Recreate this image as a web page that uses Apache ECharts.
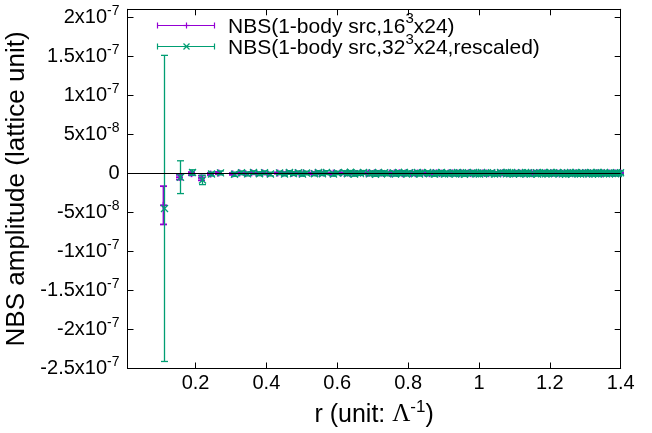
<!DOCTYPE html>
<html><head><meta charset="utf-8">
<script src="https://cdn.jsdelivr.net/npm/echarts@6/dist/echarts.min.js"></script>
<style>html,body{margin:0;padding:0;background:#fff}#c{width:652px;height:433px}</style>
</head><body><div id="c"></div>
<script>
const seriesNames = ['NBS(1-body src,16^{3}x24)', 'NBS(1-body src,32^{3}x24,rescaled)'];
const xTickValues = [0.2, 0.4, 0.6, 0.8, 1.0, 1.2, 1.4];
const xTickLabels = ['0.2', '0.4', '0.6', '0.8', '1', '1.2', '1.4'];
const yTickValues = [-2.5e-7, -2e-7, -1.5e-7, -1e-7, -5e-8, 0, 5e-8, 1e-7, 1.5e-7, 2e-7];
const yTickLabels = ['-2.5x10^{-7}', '-2x10^{-7}', '-1.5x10^{-7}', '-1x10^{-7}', '-5x10^{-8}', '0', '5x10^{-8}', '1x10^{-7}', '1.5x10^{-7}', '2x10^{-7}'];

// distances r (unit: 1/Lambda), 16^3x24 lattice
const r16Values = [
  0.108, 0.152, 0.186, 0.215, 0.240, 0.263,
  0.304, 0.323, 0.340, 0.357, 0.372, 0.388, 0.402,
  0.430, 0.443, 0.456, 0.469, 0.481, 0.493, 0.504,
  0.527, 0.538, 0.548, 0.559,
  0.579, 0.589,
  0.608, 0.618, 0.627, 0.636, 0.645, 0.654, 0.663,
  0.680, 0.688, 0.697, 0.705, 0.713, 0.721, 0.729,
  0.745, 0.753, 0.760, 0.768, 0.775, 0.783, 0.790,
  0.805, 0.812, 0.819, 0.826,
  0.840, 0.847,
  0.860, 0.867, 0.873, 0.880, 0.887, 0.893, 0.899,
  0.912, 0.919, 0.925, 0.931, 0.937, 0.943, 0.949,
  0.962, 0.968, 0.974, 0.979, 0.985, 0.991, 0.997,
  1.008, 1.014, 1.020, 1.026,
  1.037, 1.042,
  1.053, 1.059, 1.064, 1.070, 1.075, 1.080, 1.086,
  1.096, 1.102, 1.107, 1.112, 1.117, 1.122, 1.128,
  1.143, 1.148, 1.153, 1.158, 1.163, 1.168,
  1.178, 1.183, 1.187, 1.192,
  1.202, 1.207,
  1.216, 1.221, 1.226, 1.230, 1.235, 1.240, 1.244,
  1.254, 1.258, 1.263, 1.267, 1.272, 1.277, 1.281,
  1.290, 1.295, 1.299, 1.303, 1.308, 1.312, 1.317,
  1.325, 1.330, 1.334, 1.338,
  1.347, 1.351,
  1.360, 1.364, 1.368, 1.373, 1.377,
  1.381, 1.385, 1.393, 1.398
];

// distances r (unit: 1/Lambda), 32^3x24 lattice
const r32Values = [
  0.110, 0.155, 0.190, 0.219, 0.245, 0.268,
  0.309, 0.328, 0.346, 0.363, 0.379, 0.394, 0.409,
  0.437, 0.450, 0.463, 0.476, 0.488, 0.501, 0.512,
  0.535, 0.546, 0.557, 0.567,
  0.588, 0.598,
  0.618, 0.627, 0.637, 0.646, 0.655, 0.664, 0.673,
  0.690, 0.699, 0.707, 0.716, 0.724, 0.732, 0.740,
  0.756, 0.764, 0.772, 0.779, 0.787, 0.795, 0.802,
  0.817, 0.824, 0.831, 0.838,
  0.852, 0.859,
  0.873, 0.880, 0.887, 0.893, 0.900, 0.906, 0.913,
  0.926, 0.932, 0.939, 0.945, 0.951, 0.957, 0.964,
  0.976, 0.982, 0.988, 0.994, 1.000, 1.006, 1.012,
  1.024, 1.029, 1.035, 1.041,
  1.052, 1.058,
  1.069, 1.075, 1.080, 1.086, 1.091, 1.096, 1.102,
  1.113, 1.118, 1.123, 1.129, 1.134, 1.139, 1.144,
  1.160, 1.165, 1.170, 1.175, 1.180, 1.185,
  1.195, 1.200, 1.205, 1.210,
  1.220, 1.225,
  1.234, 1.239, 1.244, 1.249, 1.253, 1.258, 1.263,
  1.272, 1.277, 1.281, 1.286, 1.291, 1.295, 1.300,
  1.309, 1.314, 1.318, 1.323, 1.327, 1.332, 1.336,
  1.345, 1.349, 1.354, 1.358,
  1.367, 1.371,
  1.380, 1.384, 1.388, 1.393, 1.397
];

// NBS(1-body src, 16^3x24)
const nbs16Values = [
  -41e-9, -5e-9, -0.5e-9, -6e-9, -1e-9, 0.3e-9,
  -0.8e-9, 0.4e-9, -0.5e-9, 0.6e-9, -0.3e-9, 0.5e-9, -0.6e-9,
  0.3e-9, -0.4e-9, 0.5e-9, -0.2e-9, 0.4e-9, -0.5e-9, 0.2e-9,
  -0.3e-9, 0.6e-9, -0.2e-9, 0.4e-9,
  -0.5e-9, 0.2e-9,
  0.4e-9, -0.3e-9, 0.6e-9, -0.5e-9, 0.2e-9, -0.2e-9, 0.5e-9,
  -0.4e-9, 0.3e-9, -0.6e-9, 0.5e-9, -0.2e-9, 0.4e-9, -0.3e-9,
  0.2e-9, -0.5e-9, 0.4e-9, -0.3e-9, 0.6e-9, -0.4e-9, 0.3e-9,
  -0.2e-9, 0.5e-9, -0.4e-9, 0.3e-9,
  0.4e-9, -0.3e-9,
  -0.5e-9, 0.3e-9, -0.2e-9, 0.5e-9, -0.4e-9, 0.2e-9, -0.3e-9,
  0.3e-9, -0.4e-9, 0.5e-9, -0.2e-9, 0.3e-9, -0.5e-9, 0.4e-9,
  -0.3e-9, 0.5e-9, -0.4e-9, 0.2e-9, -0.5e-9, 0.4e-9, -0.2e-9,
  0.4e-9, -0.2e-9, 0.3e-9, -0.5e-9,
  -0.3e-9, 0.5e-9,
  0.2e-9, -0.4e-9, 0.6e-9, -0.3e-9, 0.4e-9, -0.5e-9, 0.3e-9,
  -0.4e-9, 0.3e-9, -0.2e-9, 0.5e-9, -0.3e-9, 0.4e-9, -0.5e-9,
  0.3e-9, -0.5e-9, 0.4e-9, -0.2e-9, 0.5e-9, -0.3e-9,
  -0.2e-9, 0.4e-9, -0.4e-9, 0.3e-9,
  0.5e-9, -0.3e-9,
  -0.4e-9, 0.2e-9, -0.5e-9, 0.3e-9, -0.2e-9, 0.5e-9, -0.3e-9,
  0.4e-9, -0.3e-9, 0.2e-9, -0.5e-9, 0.4e-9, -0.2e-9, 0.3e-9,
  -0.3e-9, 0.5e-9, -0.4e-9, 0.2e-9, -0.3e-9, 0.4e-9, -0.5e-9,
  0.3e-9, -0.2e-9, 0.5e-9, -0.4e-9,
  -0.3e-9, 0.4e-9,
  0.2e-9, -0.4e-9, 0.3e-9, -0.2e-9, 0.4e-9,
  -0.3e-9, 0.4e-9, -0.2e-9, 0.3e-9
];
const nbs16Errors = [
  24.5e-9, 3e-9, 2e-9, 3e-9, 1.5e-9, 1.5e-9,
  1.2e-9, 1.0e-9, 1.1e-9, 0.9e-9, 1.0e-9, 0.9e-9, 0.9e-9,
  0.9e-9, 0.8e-9, 0.9e-9, 0.8e-9, 0.8e-9, 0.9e-9, 0.8e-9,
  0.8e-9, 0.8e-9, 0.7e-9, 0.8e-9,
  0.8e-9, 0.7e-9,
  0.7e-9, 0.8e-9, 0.7e-9, 0.8e-9, 0.7e-9, 0.7e-9, 0.8e-9,
  0.7e-9, 0.8e-9, 0.9e-9, 0.7e-9, 0.8e-9, 0.7e-9, 0.8e-9,
  0.7e-9, 0.8e-9, 0.7e-9, 0.8e-9, 0.7e-9, 0.8e-9, 0.7e-9,
  0.8e-9, 0.7e-9, 0.8e-9, 0.7e-9,
  0.7e-9, 0.8e-9,
  0.9e-9, 0.7e-9, 0.8e-9, 0.7e-9, 0.8e-9, 0.7e-9, 0.8e-9,
  0.7e-9, 0.8e-9, 0.7e-9, 0.8e-9, 0.7e-9, 0.9e-9, 0.7e-9,
  0.8e-9, 0.7e-9, 0.8e-9, 0.7e-9, 0.8e-9, 0.7e-9, 0.8e-9,
  0.7e-9, 0.8e-9, 0.7e-9, 0.8e-9,
  0.8e-9, 0.7e-9,
  0.7e-9, 0.8e-9, 0.7e-9, 0.8e-9, 0.7e-9, 0.8e-9, 0.7e-9,
  0.8e-9, 0.7e-9, 0.8e-9, 0.7e-9, 0.8e-9, 0.7e-9, 0.8e-9,
  0.7e-9, 0.8e-9, 0.7e-9, 0.8e-9, 0.7e-9, 0.8e-9,
  0.8e-9, 0.7e-9, 0.8e-9, 0.7e-9,
  0.7e-9, 0.8e-9,
  0.8e-9, 0.7e-9, 0.9e-9, 0.7e-9, 0.8e-9, 0.7e-9, 0.8e-9,
  0.7e-9, 0.8e-9, 0.7e-9, 0.8e-9, 0.7e-9, 0.8e-9, 0.7e-9,
  0.8e-9, 0.7e-9, 0.8e-9, 0.7e-9, 0.8e-9, 0.7e-9, 0.8e-9,
  0.7e-9, 0.8e-9, 0.7e-9, 0.8e-9,
  0.8e-9, 0.7e-9,
  0.7e-9, 0.8e-9, 0.7e-9, 0.8e-9, 0.7e-9,
  0.8e-9, 0.7e-9, 0.8e-9, 0.7e-9
];

// NBS(1-body src, 32^3x24, rescaled)
const nbs32Values = [
  -45e-9, -5e-9, 1e-9, -8.5e-9, -1e-9, 0.5e-9,
  -1.2e-9, 0.6e-9, -0.8e-9, 1.0e-9, -0.6e-9, 0.8e-9, -1.0e-9,
  0.5e-9, -0.9e-9, 1.1e-9, -0.4e-9, 0.7e-9, -1.1e-9, 0.3e-9,
  -0.7e-9, 1.2e-9, -0.5e-9, 0.9e-9,
  -1.0e-9, 0.4e-9,
  0.9e-9, -0.6e-9, 1.3e-9, -1.1e-9, 0.5e-9, -0.4e-9, 1.0e-9,
  -0.8e-9, 0.7e-9, -1.2e-9, 1.0e-9, -0.5e-9, 0.8e-9, -0.7e-9,
  0.4e-9, -1.0e-9, 0.9e-9, -0.6e-9, 1.2e-9, -0.9e-9, 0.6e-9,
  -0.5e-9, 1.1e-9, -0.9e-9, 0.7e-9,
  0.9e-9, -0.6e-9,
  -1.1e-9, 0.6e-9, -0.4e-9, 1.1e-9, -0.9e-9, 0.5e-9, -0.7e-9,
  0.7e-9, -0.9e-9, 1.0e-9, -0.5e-9, 0.6e-9, -1.2e-9, 0.8e-9,
  -0.6e-9, 1.0e-9, -0.8e-9, 0.4e-9, -1.1e-9, 0.9e-9, -0.5e-9,
  0.8e-9, -0.5e-9, 0.7e-9, -1.0e-9,
  -0.7e-9, 1.1e-9,
  0.5e-9, -0.8e-9, 1.2e-9, -0.6e-9, 0.9e-9, -1.0e-9, 0.6e-9,
  -0.9e-9, 0.7e-9, -0.4e-9, 1.0e-9, -0.6e-9, 0.8e-9, -1.1e-9,
  0.6e-9, -1.0e-9, 0.8e-9, -0.5e-9, 1.1e-9, -0.7e-9,
  -0.5e-9, 0.9e-9, -0.8e-9, 0.6e-9,
  1.0e-9, -0.6e-9,
  -0.8e-9, 0.5e-9, -1.2e-9, 0.7e-9, -0.4e-9, 1.1e-9, -0.7e-9,
  0.9e-9, -0.6e-9, 0.4e-9, -1.0e-9, 0.8e-9, -0.5e-9, 0.7e-9,
  -0.7e-9, 1.1e-9, -0.9e-9, 0.5e-9, -0.6e-9, 0.9e-9, -1.0e-9,
  0.6e-9, -0.4e-9, 1.0e-9, -0.8e-9,
  -0.6e-9, 0.8e-9,
  0.5e-9, -0.8e-9, 0.6e-9, -0.4e-9, 0.7e-9
];
const nbs32Errors = [
  196e-9, 21e-9, 3.5e-9, 6e-9, 2.5e-9, 2.5e-9,
  2.7e-9, 2.4e-9, 2.6e-9, 2.2e-9, 2.5e-9, 2.3e-9, 2.4e-9,
  2.2e-9, 2.5e-9, 2.3e-9, 2.4e-9, 2.2e-9, 2.6e-9, 2.3e-9,
  2.4e-9, 2.2e-9, 2.3e-9, 2.5e-9,
  2.6e-9, 2.2e-9,
  2.3e-9, 2.4e-9, 2.2e-9, 2.6e-9, 2.3e-9, 2.2e-9, 2.5e-9,
  2.4e-9, 2.3e-9, 2.7e-9, 2.2e-9, 2.4e-9, 2.3e-9, 2.5e-9,
  2.2e-9, 2.6e-9, 2.3e-9, 2.4e-9, 2.2e-9, 2.5e-9, 2.3e-9,
  2.4e-9, 2.2e-9, 2.6e-9, 2.3e-9,
  2.3e-9, 2.5e-9,
  2.7e-9, 2.3e-9, 2.4e-9, 2.2e-9, 2.5e-9, 2.3e-9, 2.4e-9,
  2.3e-9, 2.5e-9, 2.2e-9, 2.4e-9, 2.3e-9, 2.8e-9, 2.2e-9,
  2.4e-9, 2.2e-9, 2.5e-9, 2.3e-9, 2.6e-9, 2.2e-9, 2.4e-9,
  2.3e-9, 2.4e-9, 2.2e-9, 2.6e-9,
  2.4e-9, 2.2e-9,
  2.2e-9, 2.5e-9, 2.3e-9, 2.4e-9, 2.2e-9, 2.6e-9, 2.3e-9,
  2.5e-9, 2.3e-9, 2.2e-9, 2.4e-9, 2.3e-9, 2.2e-9, 2.6e-9,
  2.3e-9, 2.6e-9, 2.2e-9, 2.4e-9, 2.3e-9, 2.5e-9,
  2.4e-9, 2.2e-9, 2.5e-9, 2.3e-9,
  2.2e-9, 2.4e-9,
  2.5e-9, 2.3e-9, 2.8e-9, 2.2e-9, 2.4e-9, 2.3e-9, 2.5e-9,
  2.3e-9, 2.4e-9, 2.2e-9, 2.7e-9, 2.3e-9, 2.4e-9, 2.2e-9,
  2.4e-9, 2.2e-9, 2.6e-9, 2.3e-9, 2.4e-9, 2.2e-9, 2.5e-9,
  2.3e-9, 2.4e-9, 2.2e-9, 2.5e-9,
  2.4e-9, 2.3e-9,
  2.2e-9, 2.5e-9, 2.3e-9, 2.4e-9, 2.2e-9
];

const FONT = "'Liberation Sans', Arial, sans-serif";
const PURPLE = '#9400d3';
const GREEN = '#009e73';

function toRich(s) { return s.replace(/\^\{([^}]*)\}/g, '{sup|$1}'); }

function rows(rs, vals, errs) {
  const out = [];
  const n = Math.min(rs.length, vals.length, errs.length);
  for (let i = 0; i < n; i++) out.push([rs[i], vals[i], errs[i]]);
  return out;
}

function markerLines(cx, cy, marker, m) {
  if (marker === 'plus') {
    return [[cx - m, cy, cx + m, cy], [cx, cy - m, cx, cy + m]];
  }
  return [[cx - m, cy - m, cx + m, cy + m], [cx - m, cy + m, cx + m, cy - m]];
}

function errorBarRenderer(color, marker, lw) {
  return function (params, api) {
    const x = api.value(0), y = api.value(1), e = api.value(2);
    const c = api.coord([x, y]);
    const px = Math.round(c[0]) + 0.5;   // pixel-snap the vertical bar
    const top = api.coord([x, y + e])[1];
    const bot = api.coord([x, y - e])[1];
    const cap = 3.5, m = 3.5;
    const segs = [
      [px, top, px, bot],
      [px - cap, top, px + cap, top],
      [px - cap, bot, px + cap, bot]
    ].concat(markerLines(px, c[1], marker, m));
    return {
      type: 'group',
      children: segs.map(s => ({
        type: 'line', shape: { x1: s[0], y1: s[1], x2: s[2], y2: s[3] },
        style: { stroke: color, lineWidth: lw, fill: null }
      }))
    };
  };
}

// legend built from graphic elements (sample error bar + text)
function legendEntry(name, color, marker, cy) {
  const x1 = 157.5, x2 = 214.5, cx = 186.5, h = 3;
  const segs = [[x1, cy, x2, cy], [x1, cy - h, x1, cy + h], [x2, cy - h, x2, cy + h]]
    .concat(markerLines(cx, cy, marker, 3));
  const kids = segs.map(s => ({
    type: 'line', shape: { x1: s[0], y1: s[1], x2: s[2], y2: s[3] },
    style: { stroke: color, lineWidth: 1.2 }, silent: true
  }));
  kids.push({
    type: 'text', x: 228, y: cy + 1.5, silent: true,
    style: {
      text: toRich(name), fill: '#000', fontSize: 21, fontFamily: FONT,
      verticalAlign: 'middle', align: 'left',
      rich: { sup: { fontSize: 15, fontFamily: FONT, fill: '#000', padding: [0, 0, 16, 0] } }
    }
  });
  return kids;
}

const supStyle = { fontSize: 14, fontFamily: FONT, color: '#000', padding: [0, 0, 12, 0] };

function xLabel(v) {
  for (let i = 0; i < xTickValues.length; i++) if (Math.abs(v - xTickValues[i]) < 1e-9) return xTickLabels[i];
  return '';
}
function yLabel(v) {
  for (let i = 0; i < yTickValues.length; i++) if (Math.abs(v - yTickValues[i]) < 1e-13) return toRich(yTickLabels[i]);
  return '';
}

const axisLineStyle = { show: true, onZero: false, lineStyle: { color: '#000', width: 1 } };

const chart = echarts.init(document.getElementById('c'), null, { renderer: 'canvas' });
chart.setOption({
  animation: false,
  backgroundColor: '#fff',
  grid: { left: 127.5, right: 31.3, top: 9.3, bottom: 64.5, containLabel: false, outerBoundsMode: 'none' },
  graphic: [{
    type: 'group', z: 100,
    children: legendEntry(seriesNames[0], PURPLE, 'plus', 25.5).concat(legendEntry(seriesNames[1], GREEN, 'cross', 46.5))
  }],
  xAxis: [
    {
      type: 'value', position: 'bottom', min: 0.008, max: 1.4,
      axisLine: axisLineStyle,
      axisTick: { show: true, inside: true, length: 6, customValues: xTickValues, lineStyle: { color: '#000' } },
      axisLabel: { customValues: xTickValues, formatter: xLabel, fontSize: 20, fontFamily: FONT, color: '#000', margin: 5 },
      splitLine: { show: false },
      name: 'r (unit: {sym|Λ}{sup|-1})', nameLocation: 'middle', nameGap: 25,
      nameTextStyle: {
        fontSize: 25, fontFamily: FONT, color: '#000',
        rich: { sym: { fontSize: 25, fontFamily: "'Liberation Serif', serif", color: '#000' },
                sup: { fontSize: 17, fontFamily: FONT, color: '#000', padding: [0, 0, 16, 0] } }
      }
    },
    {
      type: 'value', position: 'top', min: 0.008, max: 1.4,
      axisLine: axisLineStyle,
      axisTick: { show: true, inside: true, length: 6, customValues: xTickValues, lineStyle: { color: '#000' } },
      axisLabel: { show: false }, splitLine: { show: false }
    }
  ],
  yAxis: [
    {
      type: 'value', position: 'left', min: -2.5e-7, max: 2.1e-7,
      axisLine: axisLineStyle,
      axisTick: { show: true, inside: true, length: 6, customValues: yTickValues, lineStyle: { color: '#000' } },
      axisLabel: { customValues: yTickValues, formatter: yLabel, fontSize: 20, fontFamily: FONT, color: '#000', margin: 8, rich: { sup: supStyle } },
      splitLine: { show: false },
      name: 'NBS amplitude (lattice unit)', nameLocation: 'middle', nameGap: 90, nameRotate: 90,
      nameTextStyle: { fontSize: 26, fontFamily: FONT, color: '#000' }
    },
    {
      type: 'value', position: 'right', min: -2.5e-7, max: 2.1e-7,
      axisLine: axisLineStyle,
      axisTick: { show: true, inside: true, length: 6, customValues: yTickValues, lineStyle: { color: '#000' } },
      axisLabel: { show: false }, splitLine: { show: false }
    }
  ],
  series: [
    {
      name: 'NBS(1-body src,16^3x24)', type: 'custom', xAxisIndex: 0, yAxisIndex: 0, clip: false, z: 2,
      itemStyle: { color: PURPLE },
      encode: { x: 0, y: 1 },
      renderItem: errorBarRenderer(PURPLE, 'plus', 1.8),
      data: rows(r16Values, nbs16Values, nbs16Errors)
    },
    {
      name: 'NBS(1-body src,32^3x24,rescaled)', type: 'custom', xAxisIndex: 0, yAxisIndex: 0, clip: false, z: 3,
      itemStyle: { color: GREEN },
      encode: { x: 0, y: 1 },
      renderItem: errorBarRenderer(GREEN, 'cross', 1.3),
      data: rows(r32Values, nbs32Values, nbs32Errors)
    },
    {
      name: 'zero', type: 'line', xAxisIndex: 0, yAxisIndex: 0, data: [], z: 5, silent: true,
      markLine: {
        silent: true, symbol: 'none', label: { show: false }, animation: false,
        lineStyle: { color: '#000', width: 1, type: 'solid' },
        data: [{ yAxis: 0 }]
      }
    }
  ]
});
</script>
</body></html>
